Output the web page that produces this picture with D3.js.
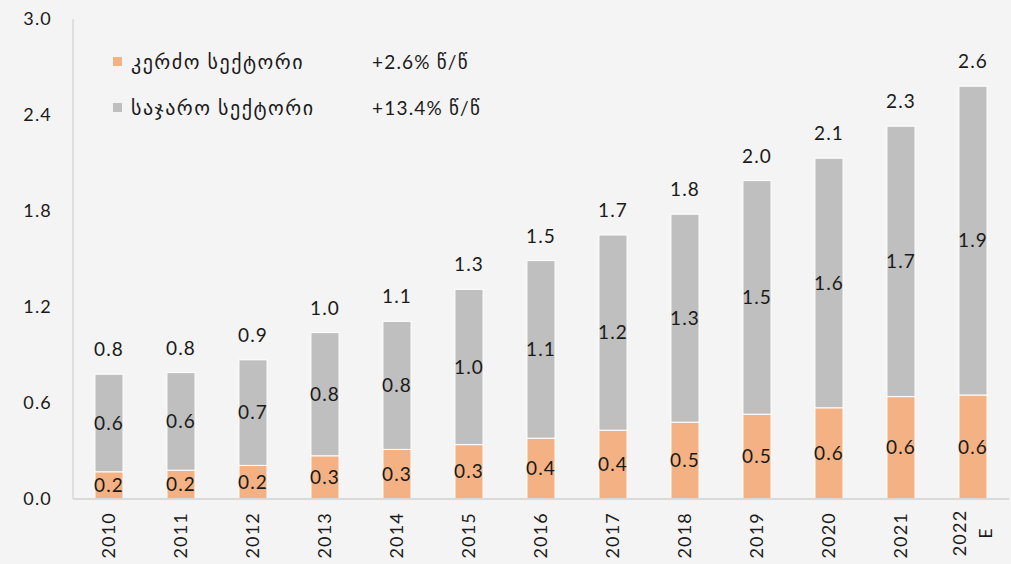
<!DOCTYPE html>
<html>
<head>
<meta charset="utf-8">
<script src="https://cdn.jsdelivr.net/npm/d3@7"></script>
<style>
  body { margin: 0; background: #f4f4f4; }
  svg { display: block; }
  text { font-family: Lato, "DejaVu Sans", sans-serif; fill: #1a1a1a; letter-spacing: 1.2px; }
</style>
</head>
<body>
<div id="chart"></div>
<script>
// données
const years = ["2010","2011","2012","2013","2014","2015","2016","2017","2018","2019","2020","2021","2022\nE"];
const privateSector = [0.17, 0.18, 0.21, 0.27, 0.31, 0.34, 0.38, 0.43, 0.48, 0.53, 0.57, 0.64, 0.65];
const publicSector  = [0.61, 0.61, 0.66, 0.77, 0.80, 0.97, 1.11, 1.22, 1.30, 1.46, 1.56, 1.69, 1.93];
const privateLabels = ["0.2","0.2","0.2","0.3","0.3","0.3","0.4","0.4","0.5","0.5","0.6","0.6","0.6"];
const publicLabels  = ["0.6","0.6","0.7","0.8","0.8","1.0","1.1","1.2","1.3","1.5","1.6","1.7","1.9"];
const totalLabels   = ["0.8","0.8","0.9","1.0","1.1","1.3","1.5","1.7","1.8","2.0","2.1","2.3","2.6"];
const yTicks = [0, 0.6, 1.2, 1.8, 2.4, 3.0];
const legendNames = ["კერძო სექტორი", "საჯარო სექტორი"];
const legendGrowth = ["+2.6% წ/წ", "+13.4% წ/წ"];
const colors = ["#f4b183", "#bfbfbf"];

const width = 1011, height = 564;
const svg = d3.select("#chart").append("svg")
	.attr("width", width)
	.attr("height", height);

const x = d3.scaleBand()
	.domain(years)
	.range([73, 1009])
	.paddingInner(0.61)
	.paddingOuter(0.305);

const y = d3.scaleLinear()
	.domain([0, 3])
	.range([499, 19]);

// axe vertical
svg.append("line")
	.attr("x1", 73).attr("x2", 73)
	.attr("y1", y(3)).attr("y2", y(0))
	.style("stroke", "#d9d9d9")
	.style("stroke-width", 1.5);

svg.append("g").selectAll("text")
	.data(yTicks).enter()
	.append("text")
	.attr("x", 52)
	.attr("y", d => y(d))
	.attr("dy", "0.35em")
	.style("text-anchor", "end")
	.style("font-size", "18px")
	.text(d => d.toFixed(1));

// barres
const rows = years.map((yr, i) => ({ yr: yr, p: privateSector[i], q: publicSector[i], i: i }));

const bars = svg.append("g");
bars.selectAll("rect.priv")
	.data(rows).enter()
	.append("rect")
	.attr("class", "priv")
	.attr("x", d => x(d.yr))
	.attr("width", x.bandwidth())
	.attr("y", d => y(d.p))
	.attr("height", d => y(0) - y(d.p))
	.style("fill", colors[0])
	.style("stroke", "white")
	.style("stroke-width", 1);

bars.selectAll("rect.pub")
	.data(rows).enter()
	.append("rect")
	.attr("class", "pub")
	.attr("x", d => x(d.yr))
	.attr("width", x.bandwidth())
	.attr("y", d => y(d.p + d.q))
	.attr("height", d => y(d.p) - y(d.p + d.q))
	.style("fill", colors[1])
	.style("stroke", "white")
	.style("stroke-width", 1);

// axe horizontal
svg.append("line")
	.attr("x1", 73).attr("x2", 1009)
	.attr("y1", y(0)).attr("y2", y(0))
	.style("stroke", "#d9d9d9")
	.style("stroke-width", 2);

// étiquettes
const labels = svg.append("g").style("font-size", "19px").style("text-anchor", "middle");
labels.selectAll("text.lp")
	.data(rows).enter()
	.append("text")
	.attr("x", d => x(d.yr) + x.bandwidth() / 2)
	.attr("y", d => y(d.p / 2))
	.attr("dy", "0.35em")
	.text(d => privateLabels[d.i]);

labels.selectAll("text.lq")
	.data(rows).enter()
	.append("text")
	.attr("x", d => x(d.yr) + x.bandwidth() / 2)
	.attr("y", d => y(d.p + d.q / 2))
	.attr("dy", "0.35em")
	.text(d => publicLabels[d.i]);

labels.selectAll("text.lt")
	.data(rows).enter()
	.append("text")
	.attr("x", d => x(d.yr) + x.bandwidth() / 2)
	.attr("y", d => y(d.p + d.q) - 18)
	.text(d => totalLabels[d.i]);

// années (texte vertical)
const xl = svg.append("g").style("font-size", "18px");
rows.forEach(function(d) {
	const lines = d.yr.split("\n");
	const cx = x(d.yr) + x.bandwidth() / 2;
	lines.forEach(function(line, k) {
		const off = (k - (lines.length - 1) / 2) * 26;
		const multi = lines.length > 1;
		xl.append("text")
			.attr("transform", "translate(" + (cx + off) + "," + (multi ? 533 : 512) + ") rotate(-90)")
			.attr("dy", "0.35em")
			.style("text-anchor", multi ? "middle" : "end")
			.text(line);
	});
});

// légende
const leg = svg.append("g");
legendNames.forEach(function(name, i) {
	const ly = 62 + i * 46;
	leg.append("rect")
		.attr("x", 113).attr("y", ly - 5)
		.attr("width", 9).attr("height", 9)
		.style("fill", colors[i]);
	leg.append("text")
		.attr("x", 131).attr("y", ly)
		.attr("dy", "0.35em")
		.style("font-size", "20px")
		.style("letter-spacing", "1.5px")
		.text(name);
	leg.append("text")
		.attr("x", 372).attr("y", ly)
		.attr("dy", "0.35em")
		.style("font-size", "19px")
		.text(legendGrowth[i]);
});
</script>
</body>
</html>
